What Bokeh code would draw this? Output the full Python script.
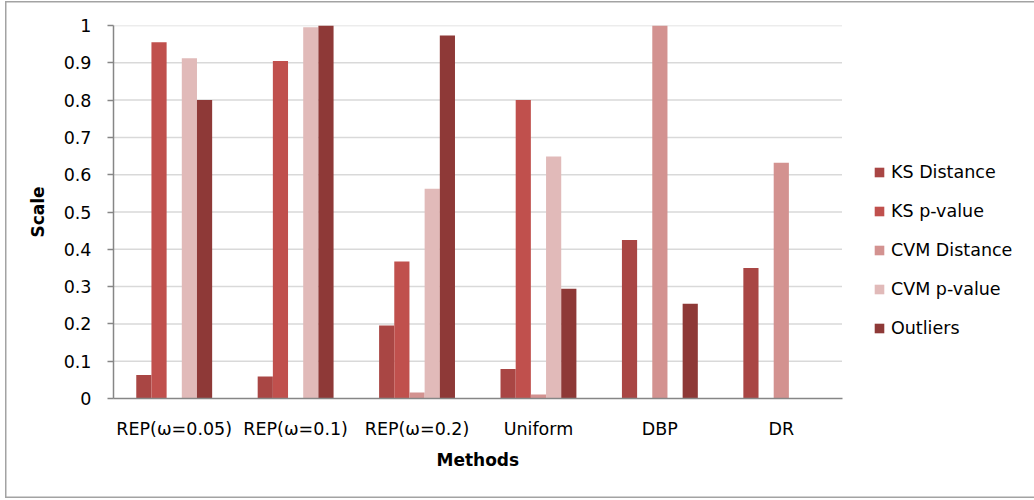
from bokeh.plotting import figure
from bokeh.models import ColumnDataSource, Range1d, FixedTicker, Legend, LegendItem, Title
from bokeh.transform import dodge
from bokeh.embed import file_html
from bokeh.resources import INLINE

# Scores per sampling method
methods = ["REP(ω=0.05)", "REP(ω=0.1)", "REP(ω=0.2)", "Uniform", "DBP", "DR"]
ks_distance = [0.063, 0.059, 0.196, 0.079, 0.425, 0.350]
ks_pvalue = [0.955, 0.905, 0.367, 0.800, 0.0, 0.0]
cvm_distance = [0.0, 0.0, 0.016, 0.011, 1.000, 0.632]
cvm_pvalue = [0.912, 0.995, 0.562, 0.649, 0.0, 0.0]
outliers = [0.800, 1.000, 0.973, 0.294, 0.254, 0.0]

series_names = ["KS Distance", "KS p-value", "CVM Distance", "CVM p-value", "Outliers"]
series_values = [ks_distance, ks_pvalue, cvm_distance, cvm_pvalue, outliers]
series_colors = ["#A94644", "#C0504D", "#D39290", "#E1BAB9", "#8E3937"]

y_ticks = [0, 0.1, 0.2, 0.3, 0.4, 0.5, 0.6, 0.7, 0.8, 0.9, 1]
y_tick_labels = ["0", "0.1", "0.2", "0.3", "0.4", "0.5", "0.6", "0.7", "0.8", "0.9", "1"]

FONT = "DejaVu Sans"

# each method occupies one unit slot on x, centred at i + 0.5
n = len(methods)
slot_centers = [i + 0.5 for i in range(n)]
source = ColumnDataSource(dict(xc=slot_centers, **{f"s{i}": v for i, v in enumerate(series_values)}))

# the frame runs on to the right edge so the legend can sit beside the bars
x_end = n * 921 / 728.5

p = figure(
    width=1034, height=500,
    x_range=Range1d(0, x_end), y_range=Range1d(0, 1),
    output_backend="svg", toolbar_location=None,
    min_border_left=113, min_border_right=0, min_border_top=25, min_border_bottom=102,
)
p.border_fill_color = None
p.background_fill_color = None
p.outline_line_color = None

# Chart-area frame drawn on the host element behind the transparent canvas
p.styles = {
    "background-color": "white",
    "box-shadow": ("inset 5px 1px 0 0 #ffffff, inset 0 -2px 0 0 #ffffff, "
                   "inset 6.5px 2.5px 0 0 #a3a3a3, inset 0 -3.5px 0 0 #a3a3a3"),
}

# horizontal gridlines across the category area only
p.xgrid.grid_line_color = None
p.ygrid.grid_line_color = None
grid_src = ColumnDataSource(dict(y=y_ticks[1:], x0=[0] * (len(y_ticks) - 1), x1=[n] * (len(y_ticks) - 1)))
p.segment(x0="x0", y0="y", x1="x1", y1="y", source=grid_src, line_color="#D9D9D9", line_width=1.5)

bar_w = 0.125
offsets = [-2 * bar_w, -bar_w, 0.0, bar_w, 2 * bar_w]
renderers = []
for i, (name, color, off) in enumerate(zip(series_names, series_colors, offsets)):
    r = p.vbar(x=dodge("xc", off), top=f"s{i}", width=bar_w,
               source=source, fill_color=color, line_color=None)
    renderers.append(r)

legend = Legend(
    items=[LegendItem(label=nm, renderers=[r]) for nm, r in zip(series_names, renderers)],
    location=(760, 60), orientation="vertical",
    padding=0, margin=0, spacing=18,
    glyph_width=12, glyph_height=12, label_standoff=6, label_height=21,
    label_text_font=FONT, label_text_font_size="17.5px", label_text_color="#000000",
    border_line_color=None, background_fill_color=None,
)
p.add_layout(legend)

# Y axis
p.yaxis.ticker = FixedTicker(ticks=y_ticks)
p.yaxis.major_label_overrides = {t: s for t, s in zip(y_ticks, y_tick_labels)}
p.yaxis.axis_label = "Scale"
p.yaxis.axis_line_color = "#868686"
p.yaxis.axis_line_width = 1.5
p.yaxis.major_tick_line_color = "#868686"
p.yaxis.major_tick_line_width = 1.5
p.yaxis.major_tick_out = 6
p.yaxis.major_tick_in = 0
p.yaxis.minor_tick_line_color = None
p.yaxis.major_label_standoff = 16
p.yaxis.axis_label_standoff = 13

# X axis: method names at slot centres, axis line limited to the slots
p.xaxis.ticker = FixedTicker(ticks=slot_centers)
p.xaxis.major_label_overrides = {c: m for c, m in zip(slot_centers, methods)}
p.xaxis.bounds = (0, n)
p.xaxis.axis_line_color = "#868686"
p.xaxis.axis_line_width = 1.5
p.xaxis.major_tick_line_color = None
p.xaxis.major_tick_out = 0
p.xaxis.major_tick_in = 0
p.xaxis.minor_tick_line_color = None
p.xaxis.major_label_standoff = 20

for ax in (p.xaxis, p.yaxis):
    ax.major_label_text_font = FONT
    ax.major_label_text_font_size = "17.5px"
    ax.major_label_text_color = "#000000"
    ax.axis_label_text_font = FONT
    ax.axis_label_text_font_size = "17px"
    ax.axis_label_text_font_style = "bold"
    ax.axis_label_text_color = "#000000"

# x-axis caption, centred under the method slots rather than the whole frame
x_title = Title(text="Methods", align="left", offset=323, standoff=12,
                text_font=FONT, text_font_size="17px", text_font_style="bold",
                text_color="#000000")
p.add_layout(x_title, "below")

open("out.html", "w").write(file_html(p, INLINE))
